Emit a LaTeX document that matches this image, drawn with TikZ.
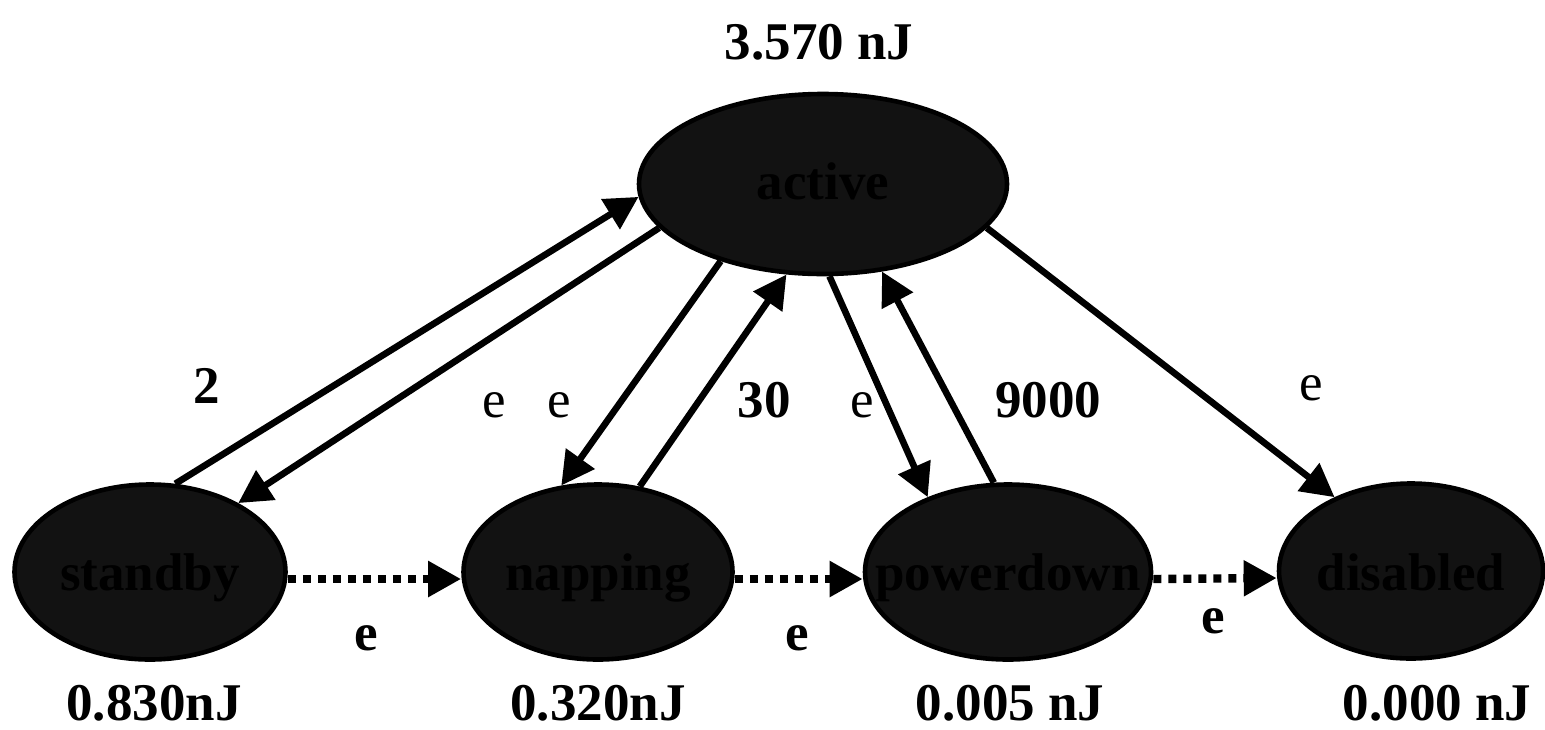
\documentclass[tikz,border=0pt]{standalone}
\usepackage{fontspec}
\setmainfont{Liberation Serif}
\usetikzlibrary{shapes.geometric,arrows.meta}
\newcommand{\lblsize}{\fontsize{26.5}{30}\selectfont}
\begin{document}
\begin{tikzpicture}[x=0.5pt,y=-0.5pt,
  state/.style={ellipse, draw=black, line width=2.3pt, fill=black!93,
    inner sep=0pt, minimum height=87.5pt},
  statetext/.style={font=\bfseries\lblsize, text=black, inner sep=0pt, anchor=base},
  boldlbl/.style={font=\bfseries\lblsize, inner sep=0pt, anchor=base},
  plainlbl/.style={font=\lblsize, inner sep=0pt, anchor=base},
  trans/.style={line width=3.3pt, -{Triangle[length=16.5pt,width=17pt]}},
  lazy/.style={line width=4.2pt, dash pattern=on 4pt off 3.5pt,
    -{Triangle[length=16.5pt,width=17pt]}}]
\useasboundingbox (0,0) rectangle (1545,729);

% power states
\node[state, minimum width=184pt, minimum height=90pt] (active) at (823,184) {};
\node[state, minimum width=135.5pt] (standby) at (150,572) {};
\node[state, minimum width=134.5pt] (napping) at (598,572) {};
\node[state, minimum width=143pt] (powerdown) at (1008,572) {};
\node[state, minimum width=132pt] (disabled) at (1411,571) {};

\node[statetext] (active-t) at (823,199) {active};
\node[statetext] (standby-t) at (150,590) {standby};
\node[statetext] (napping-t) at (598,590) {napping};
\node[statetext] (powerdown-t) at (1008,590) {powerdown};
\node[statetext] (disabled-t) at (1411,590) {disabled};

% energy per state
\node[boldlbl] (e-active) at (819,59) {3.570 nJ};
\node[boldlbl] (e-standby) at (154,720) {0.830nJ};
\node[boldlbl] (e-napping) at (598,720) {0.320nJ};
\node[boldlbl] (e-powerdown) at (1010,720) {0.005 nJ};
\node[boldlbl] (e-disabled) at (1437,720) {0.000 nJ};

% transitions to and from the active state
\draw[trans] (standby.74) -- (active.184);
\draw[trans] (active.195) -- (standby.38);
\draw[trans] (active.217) -- (napping.113);
\draw[trans] (napping.64) -- (active.248);
\draw[trans] (active.274) -- (powerdown.137);
\draw[trans] (powerdown.99) -- (active.304);
\draw[trans] (active.345) -- (disabled.136);

% lazy transitions down the chain
\draw[lazy] ([yshift=-3.5pt]standby.east) -- ([yshift=-3.5pt]napping.west);
\draw[lazy] ([yshift=-3.5pt]napping.east) -- ([yshift=-3.5pt]powerdown.west);
\draw[lazy] ([yshift=-3.5pt]powerdown.east) -- ([yshift=-3.5pt]disabled.west);

% transition labels
\node[boldlbl] (l-sa) at (207,403) {2};
\node[plainlbl] (l-as) at (494,417) {e};
\node[plainlbl] (l-an) at (559,417) {e};
\node[boldlbl] (l-na) at (764,417) {30};
\node[plainlbl] (l-ap) at (862,417) {e};
\node[boldlbl] (l-pa) at (1048,417) {9000};
\node[plainlbl] (l-ad) at (1311,400) {e};
\node[boldlbl] (l-sn) at (366,650) {e};
\node[boldlbl] (l-np) at (797,650) {e};
\node[boldlbl] (l-pd) at (1213,633) {e};
\end{tikzpicture}
\end{document}
